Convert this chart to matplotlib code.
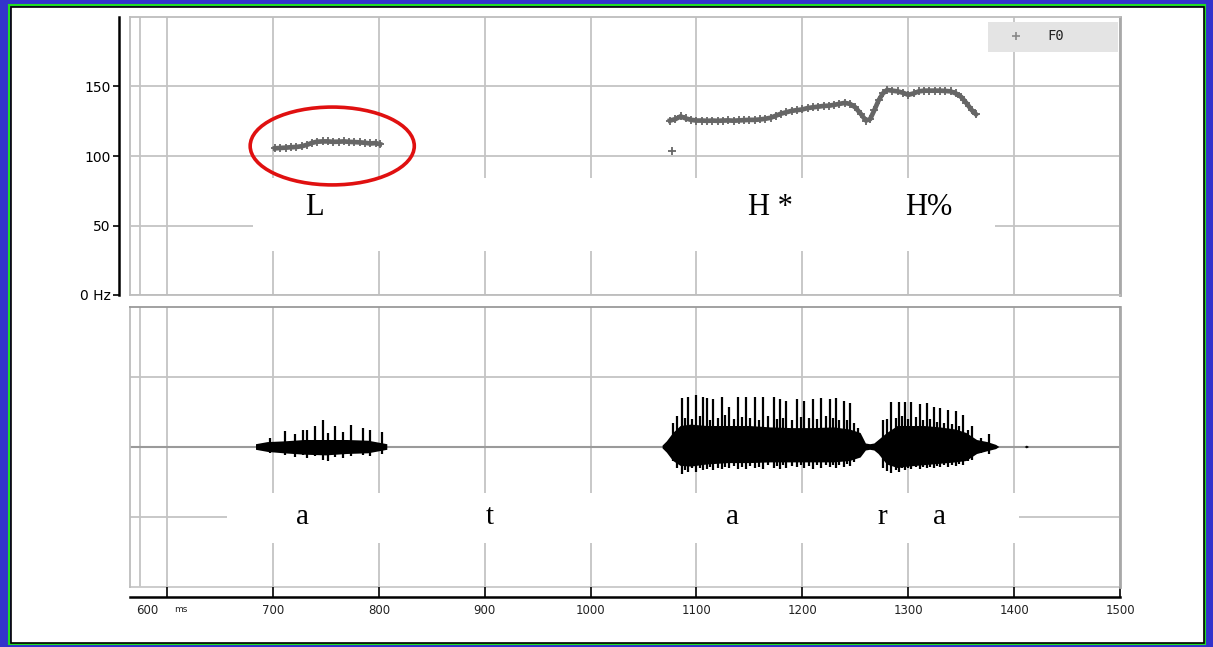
import matplotlib.pyplot as plt
from matplotlib.patches import Rectangle, Ellipse
from matplotlib.transforms import ScaledTranslation

nan = float("nan")

# ---- F0 track (ms, Hz) ----
f0_t_L = [702, 707, 712, 717, 722, 727, 732, 737, 742, 747, 752, 757, 762, 767,
          772, 777, 782, 787, 792, 797, 801]
f0_v_L = [105.5, 105.8, 106, 106.3, 106.5, 107, 108, 109.5, 110.3, 110.5, 110.5,
          110.2, 110.3, 110.5, 110.2, 110, 109.8, 109.5, 109, 109.3, 108.5]

f0_t_H = [1075, 1080, 1085, 1090, 1095, 1100, 1105, 1110, 1115, 1120, 1125, 1130,
          1135, 1140, 1145, 1150, 1155, 1160, 1165, 1170, 1175, 1180, 1185, 1190,
          1195, 1200, 1205, 1210, 1215, 1220, 1225, 1230, 1235, 1240, 1245, 1250,
          1255, 1260, 1264, 1268, 1272, 1276, 1280, 1285, 1290, 1295, 1300, 1305,
          1310, 1315, 1320, 1325, 1330, 1335, 1340, 1345, 1350, 1355, 1360, 1364]
f0_v_H = [125.5, 126.5, 128.5, 127, 126, 125.5, 125.5, 125.3, 125.5, 125.3, 125.5,
          125.6, 125.4, 125.6, 125.8, 126, 126, 126.3, 126.8, 127.5, 129, 130.5,
          131.5, 132.5, 133, 133.5, 134.5, 135, 135.5, 136, 136.2, 136.8, 137.5,
          138.2, 137.5, 135, 130.5, 125.5, 126.5, 133, 140, 145, 147.5, 147, 146.5,
          145.5, 144, 145, 146.5, 147, 147, 147, 147, 146.8, 146.5, 145, 142.5,
          138, 133, 130]

f0_stray_t = [1077]
f0_stray_v = [103.5]

# ---- waveform: body envelope (nan = silence gap) and glottal pulse spikes ----
env_t = [684, 695, 710, 730, 750, 770, 790, 808, nan,
         1068, 1072, 1078, 1085, 1095, 1110, 1130, 1150, 1170, 1190, 1210, 1230,
         1245, 1255, 1260, 1264, 1268, 1272, 1280, 1290, 1300, 1315, 1330, 1345,
         1355, 1365, 1375, 1383, 1386, nan, 1410, 1412, 1414]
env_hi = [0.04, 0.07, 0.08, 0.1, 0.1, 0.1, 0.09, 0.04, nan,
          0.02, 0.08, 0.2, 0.3, 0.32, 0.3, 0.3, 0.3, 0.28, 0.27, 0.27, 0.28,
          0.25, 0.2, 0.05, 0.04, 0.05, 0.1, 0.2, 0.3, 0.3, 0.3, 0.28, 0.25,
          0.2, 0.1, 0.07, 0.03, 0.0, nan, 0.0, 0.02, 0.0]
env_lo = [-0.04, -0.07, -0.09, -0.11, -0.12, -0.1, -0.09, -0.04, nan,
          -0.02, -0.08, -0.2, -0.27, -0.28, -0.25, -0.23, -0.23, -0.22, -0.22,
          -0.22, -0.22, -0.2, -0.15, -0.05, -0.04, -0.05, -0.1, -0.25, -0.3,
          -0.28, -0.26, -0.24, -0.22, -0.2, -0.1, -0.06, -0.03, 0.0, nan, 0.0, -0.02, 0.0]

spike_t = [697, 711, 721, 728, 732, 740, 747, 752, 759, 766, 774, 785, 792, 803,
           # second "a"
           1078, 1086, 1092, 1100, 1106, 1110, 1116, 1124, 1131, 1139, 1147, 1155,
           1163, 1173, 1179, 1185, 1195, 1202, 1210, 1218, 1226, 1232, 1239, 1245, 1253,
           1082, 1089, 1096, 1103, 1113, 1120, 1127, 1135, 1143, 1151, 1159, 1168,
           1176, 1182, 1190, 1199, 1206, 1214, 1222, 1229, 1235, 1242, 1249,
           # "ra"
           1276, 1284, 1291, 1297, 1303, 1311, 1318, 1324, 1330, 1338, 1345, 1352,
           1360, 1369, 1376,
           1280, 1288, 1294, 1300, 1307, 1314, 1321, 1327, 1334, 1341, 1348, 1356]
spike_up = [0.13, 0.23, 0.19, 0.24, 0.25, 0.30, 0.39, 0.2, 0.30, 0.22, 0.32, 0.27, 0.25, 0.21,
            0.34, 0.70, 0.71, 0.75, 0.71, 0.70, 0.68, 0.71, 0.57, 0.71, 0.72, 0.71,
            0.71, 0.71, 0.68, 0.66, 0.68, 0.66, 0.68, 0.70, 0.69, 0.70, 0.66, 0.63, 0.27,
            0.45, 0.42, 0.4, 0.44, 0.38, 0.42, 0.46, 0.4, 0.43, 0.41, 0.39, 0.44,
            0.4, 0.42, 0.38, 0.43, 0.41, 0.4, 0.44, 0.42, 0.39, 0.38, 0.35,
            0.39, 0.64, 0.64, 0.65, 0.64, 0.61, 0.63, 0.57, 0.56, 0.53, 0.51, 0.46,
            0.30, 0.13, 0.19,
            0.4, 0.42, 0.45, 0.4, 0.43, 0.38, 0.4, 0.36, 0.35, 0.33, 0.3, 0.25]
spike_dn = [-0.08, -0.12, -0.14, -0.12, -0.15, -0.13, -0.18, -0.2, -0.14, -0.15, -0.13, -0.12, -0.13, -0.1,
            -0.2, -0.38, -0.36, -0.35, -0.33, -0.32, -0.33, -0.31, -0.3, -0.31, -0.32, -0.3,
            -0.31, -0.3, -0.31, -0.3, -0.29, -0.3, -0.31, -0.3, -0.29, -0.3, -0.28, -0.27, -0.15,
            -0.3, -0.33, -0.3, -0.3, -0.28, -0.3, -0.28, -0.27, -0.28, -0.27, -0.28, -0.26,
            -0.27, -0.26, -0.27, -0.26, -0.27, -0.26, -0.25, -0.26, -0.25, -0.24, -0.22,
            -0.3, -0.37, -0.35, -0.33, -0.32, -0.31, -0.3, -0.3, -0.29, -0.28, -0.27, -0.25,
            -0.18, -0.08, -0.1,
            -0.34, -0.33, -0.3, -0.3, -0.29, -0.28, -0.28, -0.27, -0.26, -0.25, -0.24, -0.2]

# ---- labels and ticks ----
tone_labels = ["L", "H *", "H%"]
tone_x = [739, 1170, 1319]
seg_labels = ["a", "t", "a", "r", "a"]
seg_x = [728, 905, 1134, 1275, 1330]
x_ticks = [600, 700, 800, 900, 1000, 1100, 1200, 1300, 1400, 1500]
f0_ticks = [0, 50, 100, 150]
f0_ticklabels = ["0 Hz", "50", "100", "150"]

W, H = 1213, 647
grid_c = "#c4c4c4"
tick_font = dict(family="DejaVu Sans", size=8.5, color="#222222")

fig = plt.figure(figsize=(W / 100, H / 100), dpi=100)
fig.patch.set_facecolor("#3333cc")
fig.patches.append(Rectangle((9 / W, 3 / H), 1196 / W, 639 / H, transform=fig.transFigure,
                             facecolor="none", edgecolor="#22dd22", lw=1.5, zorder=-2))
fig.patches.append(Rectangle((10.5 / W, 4.5 / H), 1193 / W, 636 / H, transform=fig.transFigure,
                             facecolor="white", edgecolor="black", lw=1.2, zorder=-1))

ax1 = fig.add_axes([130 / W, (H - 295) / H, 990 / W, 278 / H])
ax2 = fig.add_axes([130 / W, (H - 587) / H, 990 / W, 280 / H])

for ax in (ax1, ax2):
    ax.set_xlim(565, 1500)
    ax.set_xticks(x_ticks)
    ax.set_axisbelow(True)
    ax.grid(True, color=grid_c, lw=1.3)
    ax.axvline(574, color=grid_c, lw=1.3, zorder=0.5)
    for s in ax.spines.values():
        s.set_color("#bdbdbd")
        s.set_linewidth(1.3)
    ax.spines["right"].set_color("#a8a8a8")
    ax.spines["right"].set_linewidth(2)

# ---- top panel: F0 ----
ax1.set_ylim(0, 200)
ax1.set_yticks(f0_ticks)
ax1.set_yticklabels(f0_ticklabels, fontdict=tick_font)
ax1.tick_params(axis="x", length=0, labelbottom=False)
ax1.tick_params(axis="y", length=4, width=1.2, color="black", pad=2)
ax1.spines["left"].set_position(("outward", 8))
ax1.spines["left"].set_color("black")
ax1.spines["left"].set_linewidth(1.8)
ax1.axvline(565, color="#bdbdbd", lw=1.3, clip_on=False, zorder=0.5)

ax1.add_patch(Rectangle((681, 32), 701, 52, facecolor="white", edgecolor="none", zorder=1))
ax1.plot(f0_t_L, f0_v_L, color="#666666", lw=3.4, marker="+", ms=6, mew=1.3, zorder=3)
ax1.plot(f0_t_H, f0_v_H, color="#666666", lw=3.4, marker="+", ms=6, mew=1.3, zorder=3)
ax1.plot(f0_stray_t, f0_stray_v, ls="none", color="#666666", marker="+", ms=6, mew=1.3, zorder=3)

for lab, x in zip(tone_labels, tone_x):
    ax1.text(x, 63, lab, family="Liberation Serif", fontsize=22, ha="center", va="center", zorder=4)

ax1.add_patch(Ellipse((756, 107.2), 155, 56, fill=False, edgecolor="#e01010", lw=2.6, zorder=5))

# legend box
ax1.add_patch(Rectangle((1375, 175), 123, 21.5, facecolor="#e4e4e4", edgecolor="none", zorder=1))
ax1.plot([1402], [186], ls="none", marker="+", color="#888888", ms=6, mew=1.2, zorder=2)
ax1.text(1439, 186.5, "F0", family="DejaVu Sans Mono", fontsize=10, ha="center", va="center", color="#222222")

# ---- bottom panel: waveform ----
ax2.set_ylim(-2, 2)
ax2.set_yticks([-1, 0, 1])
ax2.tick_params(axis="y", length=0, labelleft=False)
ax2.spines["top"].set_color("#9a9a9a")
ax2.spines["bottom"].set_position(("outward", 7))
ax2.spines["bottom"].set_color("black")
ax2.spines["bottom"].set_linewidth(1.8)
ax2.axhline(-2, color="#c8c8c8", lw=1.3, clip_on=False, zorder=0.5)
ax2.axhline(0, color="#9a9a9a", lw=1.5, zorder=0.6)
ax2.tick_params(axis="x", direction="in", length=7, width=1.2, color="black", pad=5)
ax2.set_xticklabels([str(t) for t in x_ticks], fontdict=tick_font)
# first label sits left of its tick, with a small unit after it
first = ax2.get_xticklabels()[0]
first.set_transform(first.get_transform() + ScaledTranslation(-0.2, 0, fig.dpi_scale_trans))
ax2.text(607, -0.079, "ms", fontsize=6.5, color="#222222", va="center", ha="left",
         transform=ax2.get_xaxis_transform(), clip_on=False)

ax2.add_patch(Rectangle((657, -1.37), 748, 0.72, facecolor="white", edgecolor="none", zorder=1))
ax2.fill_between(env_t, env_lo, env_hi, color="black", lw=0, zorder=3)
ax2.vlines(spike_t, spike_dn, spike_up, color="black", lw=1.6, zorder=3)

for lab, x in zip(seg_labels, seg_x):
    ax2.text(x, -1.0, lab, family="Liberation Serif", fontsize=21, ha="center", va="center", zorder=4)

fig.savefig("out.png", dpi=100, facecolor=fig.get_facecolor())
